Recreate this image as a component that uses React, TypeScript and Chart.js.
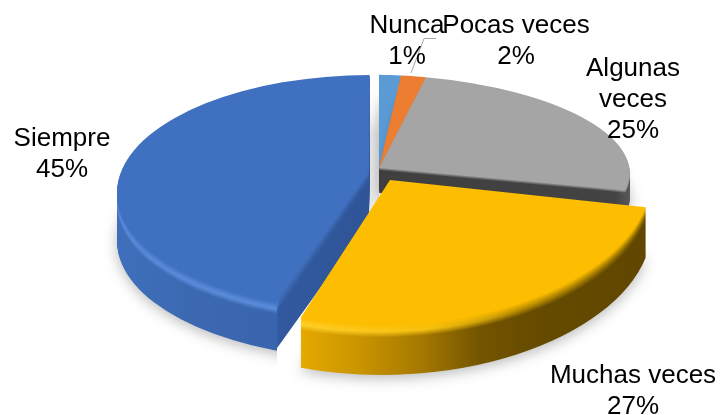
import React, { useEffect, useRef } from "react";
import { Chart, registerables } from "chart.js";

Chart.register(...registerables);

// Data (slice widths suggest the two small shares are 1.4 and 1.6)
const categories = ["Nunca", "Pocas veces", "Algunas veces", "Muchas veces", "Siempre"];
const shares = [1.4, 1.6, 25, 27, 45];
const sliceColors = ["#5b9bd5", "#ed7d31", "#a5a5a5", "#fdbd00", "#4070c0"];

const FONT = '26px "Liberation Sans", Arial, sans-serif';
const RADIUS = 252;
const LINE = 31;

type Stop = [number, string];
type Piece = { at: [number, number]; sx: number; sy: number; shx?: number; shy?: number; clip?: number[][] };
type Look = { depth: number; bevel: number; wall: Stop[]; glow: Stop[]; pieces: Piece[] };

const backPiece: Piece = { at: [379, 168], sx: 0.995, sy: 0.37, shy: 0.02 };
const FAR = 1000;

const looks: Record<number, Look> = {
  0: { depth: 25, bevel: 2, wall: [[379, "#3d3d3d"], [402, "#3d3d3d"]], glow: [[379, "#5b9bd5"], [402, "#5b9bd5"]], pieces: [backPiece] },
  1: { depth: 25, bevel: 2, wall: [[400, "#3d3d3d"], [426, "#3d3d3d"]], glow: [[400, "#ed7d31"], [426, "#ed7d31"]], pieces: [backPiece] },
  2: {
    depth: 25, bevel: 3,
    wall: [[379, "#3f3f3f"], [615, "#434343"], [632, "#5d5d5d"]],
    glow: [[379, "#6a6a6a"], [600, "#6a6a6a"], [632, "#8a8a8a"]],
    pieces: [backPiece],
  },
  3: {
    depth: 50, bevel: 13,
    wall: [[300, "#e6a900"], [360, "#c99400"], [420, "#a67900"], [480, "#735400"], [540, "#654a00"], [650, "#604600"]],
    glow: [[300, "#ffd02a"], [430, "#f5c010"], [520, "#b58a00"], [650, "#8c6a00"]],
    pieces: [{ at: [390, 180], sx: 1.04, sy: 0.575, shx: -0.035 }],
  },
  4: {
    depth: 48, bevel: 12,
    wall: [[117, "#3f6fbc"], [200, "#3b68b0"], [276, "#3865ad"], [279, "#32599f"], [370, "#2f5597"]],
    glow: [[117, "#5a8cdb"], [276, "#5c8ddc"], [279, "#3a66ad"], [370, "#33599c"]],
    pieces: [
      { at: [370, 193], sx: 1.004, sy: 0.468, clip: [[0, 0], [370, 0], [369, 172], [277, 300], [277, FAR], [0, FAR]] },
    ],
  },
};

const paintOrder = [4, 0, 1, 2, 3];

const labelLines: Record<number, string[]> = {
  0: [categories[0]],
  1: [categories[1]],
  2: ["Algunas", "veces"],
  3: [categories[3]],
  4: [categories[4]],
};
const labelSpots: Record<number, [number, number]> = {
  0: [407, 33],
  1: [516, 33],
  2: [633, 76],
  3: [633, 383],
  4: [62, 146],
};

function rgb(h: string) {
  return [1, 3, 5].map((i) => parseInt(h.slice(i, i + 2), 16));
}
function mix(a: string, b: string, t: number) {
  const x = rgb(a);
  const y = rgb(b);
  const m = x.map((v, i) => Math.round(v + (y[i] - v) * t));
  return "#" + m.map((v) => v.toString(16).padStart(2, "0")).join("");
}
function sample(stops: Stop[], x: number) {
  if (x <= stops[0][0]) return stops[0][1];
  for (let i = 1; i < stops.length; i++) {
    if (x <= stops[i][0]) {
      const [x0, c0] = stops[i - 1];
      const [x1, c1] = stops[i];
      return mix(c0, c1, (x - x0) / (x1 - x0 || 1));
    }
  }
  return stops[stops.length - 1][1];
}

const pieView3D = {
  id: "pieView3D",
  beforeDatasetsDraw(chart: any) {
    const ctx: CanvasRenderingContext2D = chart.ctx;
    const arcs = chart.getDatasetMeta(0).data;
    const cx = arcs[0].x;
    const cy = arcs[0].y;

    const drawArc = (i: number, d: number, stopsFor: Stop[] | null, shadow: boolean) => {
      const arc = arcs[i];
      const base = arc.options;
      for (const p of looks[i].pieces) {
        const a = p.sx;
        const b = p.shy || 0;
        const c = p.shx || 0;
        const dd = p.sy;
        const e = p.at[0] - a * cx - c * cy;
        const f = p.at[1] - b * cx - dd * cy;
        ctx.save();
        ctx.translate(0, d);
        if (p.clip) {
          ctx.beginPath();
          p.clip.forEach(([x, y], n) => (n ? ctx.lineTo(x, y) : ctx.moveTo(x, y)));
          ctx.closePath();
          ctx.clip();
        }
        ctx.transform(a, b, c, dd, e, f);
        let fill: any = sliceColors[i];
        if (stopsFor) {
          const x0 = stopsFor[0][0];
          const x1 = stopsFor[stopsFor.length - 1][0];
          const n2 = a * a + c * c;
          const g = ctx.createLinearGradient(
            ((x0 - e) * a) / n2,
            ((x0 - e) * c) / n2,
            ((x1 - e) * a) / n2,
            ((x1 - e) * c) / n2
          );
          stopsFor.forEach(([x, col]) => g.addColorStop((x - x0) / (x1 - x0), col));
          fill = g;
        }
        if (shadow) {
          ctx.shadowColor = "rgba(0,0,0,0.28)";
          ctx.shadowBlur = 14;
          ctx.shadowOffsetY = 3;
        }
        arc.options = Object.create(base, { backgroundColor: { value: fill } });
        arc.draw(ctx);
        arc.options = base;
        ctx.restore();
      }
    };

    // faint shade in the gap behind the separated slices
    const shade = ctx.createLinearGradient(0, 112, 0, 135);
    shade.addColorStop(0, "#ffffff");
    shade.addColorStop(1, "#e8e8e8");
    ctx.fillStyle = shade;
    ctx.fillRect(370, 112, 9, 100);

    for (const i of paintOrder) {
      const look = looks[i];
      drawArc(i, look.depth, look.wall, true);
      for (let d = look.depth - 1; d > look.bevel; d--) drawArc(i, d, look.wall, false);
      for (let d = look.bevel; d >= 1; d--) {
        const t = d / look.bevel;
        const xs = Array.from(new Set([...look.wall, ...look.glow].map((s) => s[0]))).sort((p, q) => p - q);
        const stops: Stop[] = xs.map((x) => {
          const w = sample(look.wall, x);
          const g = sample(look.glow, x);
          const col = t > 0.55 ? mix(g, w, (t - 0.55) / 0.45) : mix(sliceColors[i], g, t / 0.55);
          return [x, col];
        });
        drawArc(i, d, stops, false);
      }
      drawArc(i, 0, null, false);
    }
    return false; // slices were painted above, through their own elements
  },
  afterDraw(chart: any) {
    const ctx: CanvasRenderingContext2D = chart.ctx;
    ctx.save();
    ctx.strokeStyle = "#a6a6a6";
    ctx.lineWidth = 1;
    ctx.beginPath();
    ctx.moveTo(411, 73);
    ctx.lineTo(424, 38.5);
    ctx.lineTo(436, 38.5);
    ctx.stroke();
    ctx.font = FONT;
    ctx.fillStyle = "#000000";
    ctx.textAlign = "center";
    ctx.textBaseline = "alphabetic";
    shares.forEach((v, i) => {
      const [x, y] = labelSpots[i];
      const lines = [...labelLines[i], Math.round(v) + "%"];
      lines.forEach((t, n) => ctx.fillText(t, x, y + n * LINE));
    });
    ctx.restore();
  },
};

export default function App() {
  const ref = useRef<HTMLCanvasElement>(null);
  useEffect(() => {
    document.body.style.margin = "0";
    const chart = new Chart(ref.current!, {
      type: "pie",
      data: {
        labels: categories,
        datasets: [{ data: shares, backgroundColor: sliceColors, borderWidth: 0 }],
      },
      options: {
        responsive: false,
        animation: false,
        radius: RADIUS,
        layout: { padding: 0 },
        plugins: { legend: { display: false }, tooltip: { enabled: false } },
        events: [],
      } as any,
      plugins: [pieView3D],
    });
    return () => chart.destroy();
  }, []);
  return <canvas ref={ref} width={720} height={415} style={{ display: "block" }} />;
}
